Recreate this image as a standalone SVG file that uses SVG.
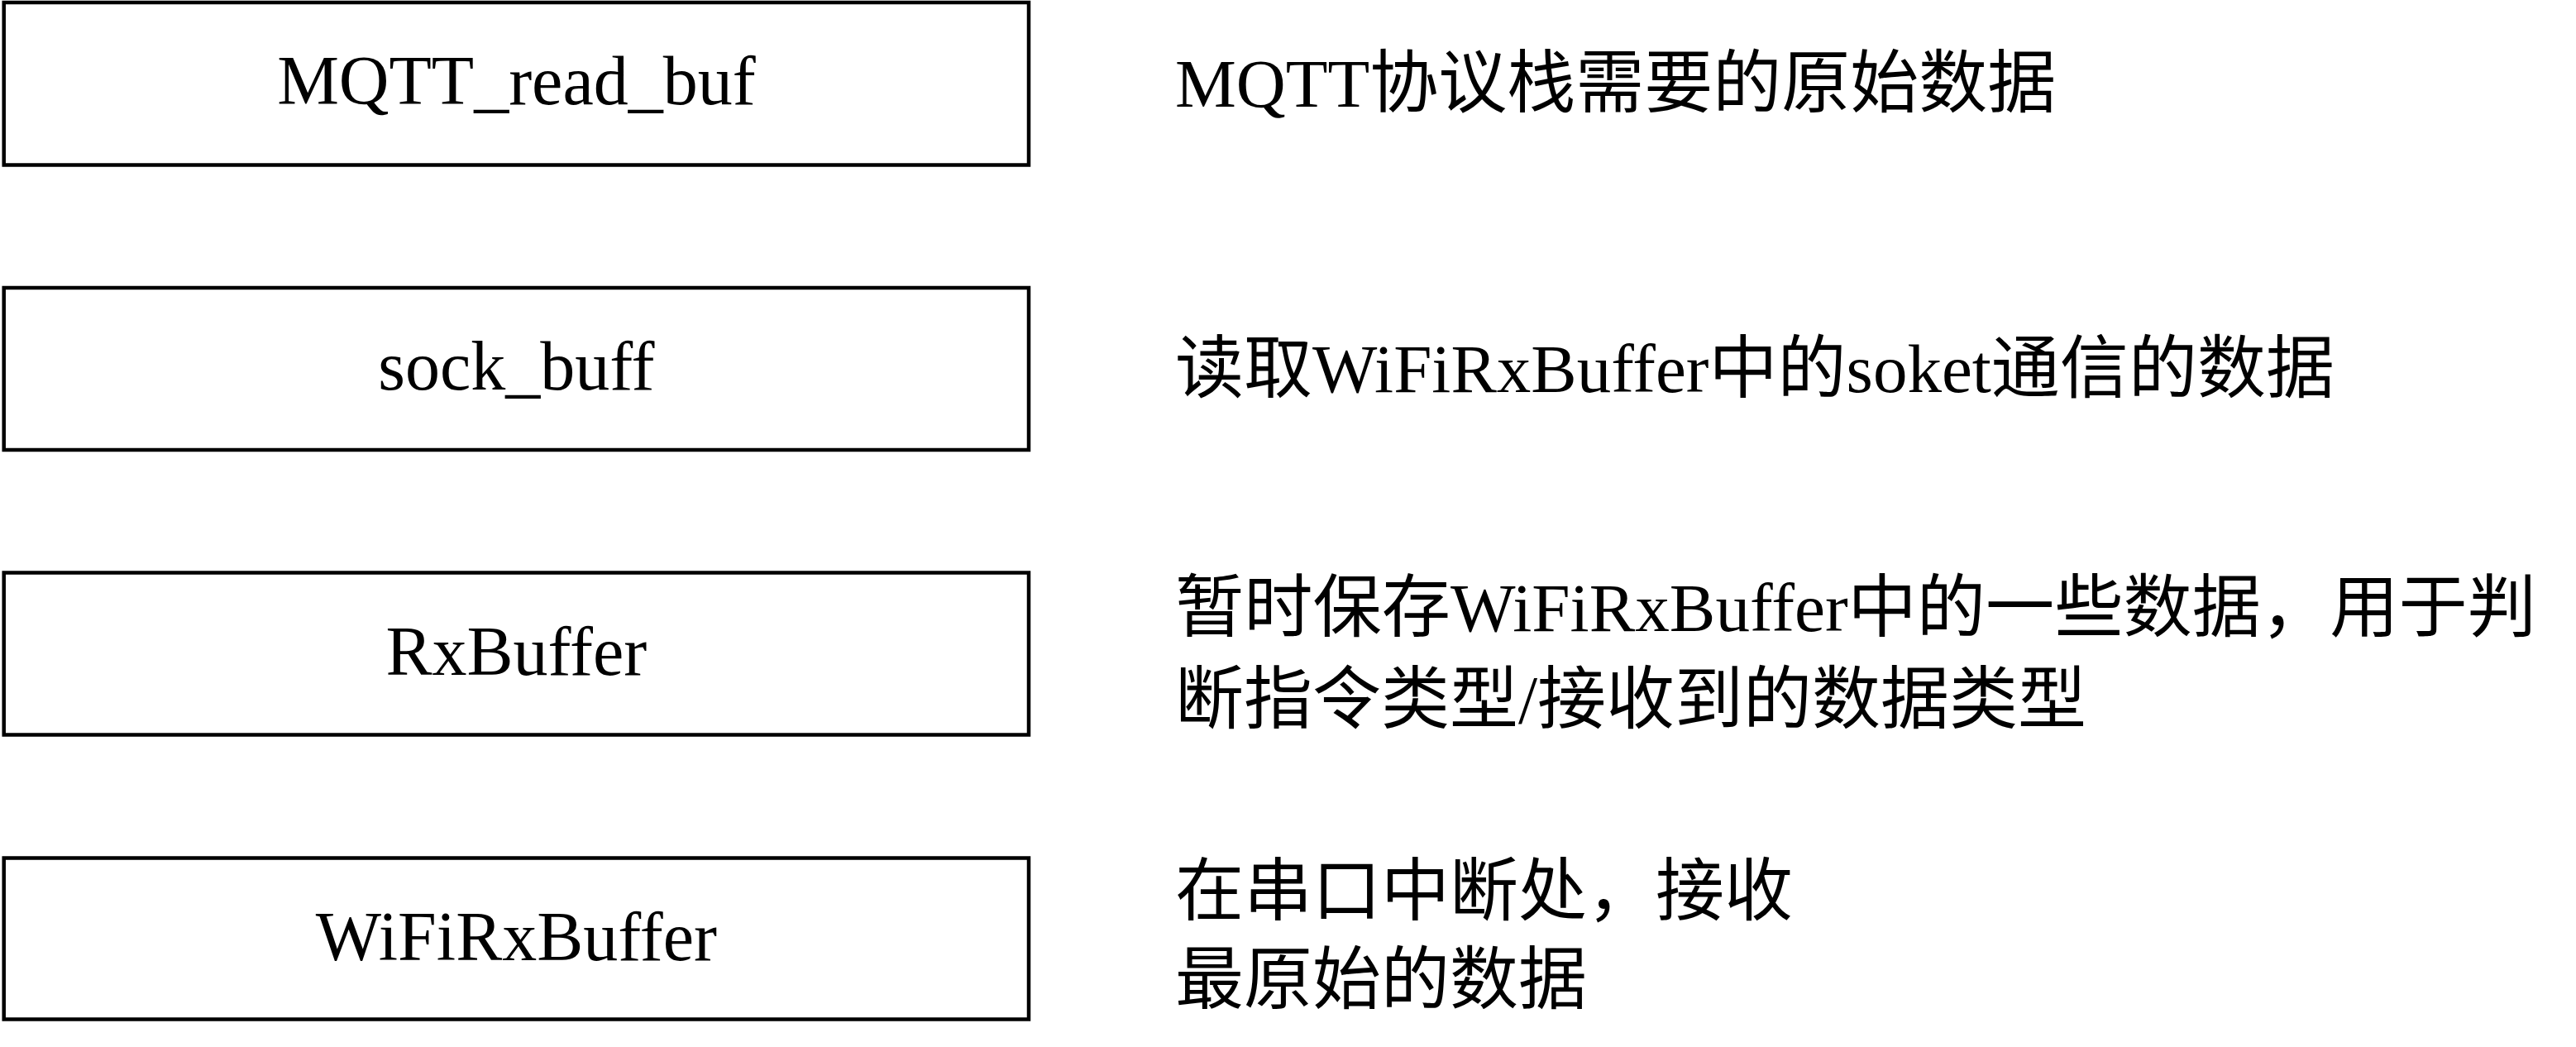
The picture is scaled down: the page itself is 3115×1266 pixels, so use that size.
<svg xmlns="http://www.w3.org/2000/svg" width="3115" height="1266" viewBox="0 0 3115 1266">
<style>
.box{fill:#fff;stroke:#000;stroke-width:4.5}
.lbl{font-family:"Liberation Serif","Noto Sans CJK SC",serif;font-size:84px;fill:#000;text-anchor:middle}
.desc{font-family:"Liberation Serif","Noto Sans CJK SC",serif;font-size:83px;fill:#000}
</style>
<rect x="0" y="0" width="3115" height="1266" fill="#fff"/>
<g id="connectors"></g>
<g id="node-mqtt">
<rect class="box" x="4.7" y="3" width="1239.3" height="196.5"/>
<text class="lbl" x="624.4" y="126">MQTT_read_buf</text>
</g>
<g id="node-sock">
<rect class="box" x="4.7" y="348" width="1239.3" height="196"/>
<text class="lbl" x="624.4" y="471">sock_buff</text>
</g>
<g id="node-rx">
<rect class="box" x="4.7" y="692.5" width="1239.3" height="196"/>
<text class="lbl" x="624.4" y="815.5">RxBuffer</text>
</g>
<g id="node-wifi">
<rect class="box" x="4.7" y="1037.5" width="1239.3" height="195"/>
<text class="lbl" x="624.4" y="1160.5">WiFiRxBuffer</text>
</g>
<g id="desc-mqtt">
<text class="desc" x="1421" y="129.3">MQTT协议栈需要的原始数据</text>
</g>
<g id="desc-sock">
<text class="desc" x="1421" y="474" textLength="1402" lengthAdjust="spacingAndGlyphs">读取WiFiRxBuffer中的soket通信的数据</text>
</g>
<g id="desc-rx">
<text class="desc" x="1421" y="763" textLength="1646" lengthAdjust="spacingAndGlyphs">暂时保存WiFiRxBuffer中的一些数据，用于判</text>
<text class="desc" x="1421" y="873.5">断指令类型/接收到的数据类型</text>
</g>
<g id="desc-wifi">
<text class="desc" x="1421" y="1105.5">在串口中断处，接收</text>
<text class="desc" x="1421" y="1213">最原始的数据</text>
</g>
</svg>
